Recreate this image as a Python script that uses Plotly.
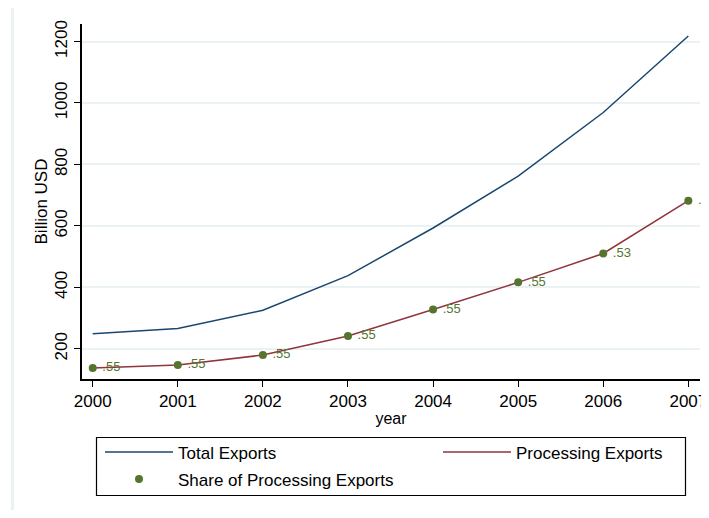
import plotly.graph_objects as go

# China exports, billion USD
years = [2000, 2001, 2002, 2003, 2004, 2005, 2006, 2007]
total_exports = [249.2, 266.1, 325.6, 438.2, 593.3, 762.0, 969.1, 1218.0]
processing_exports = [137.7, 147.4, 179.9, 241.8, 327.9, 416.5, 510.4, 682.0]
share = [0.55, 0.55, 0.55, 0.55, 0.55, 0.55, 0.53, 0.56]

y_ticks = [200, 400, 600, 800, 1000, 1200]

navy = "#1a476f"
maroon = "#90353b"
green = "#55752f"
grid = "#eaf2f3"

share_labels = [f"{s:.2f}".lstrip("0") for s in share]

fig = go.Figure()
fig.add_trace(go.Scatter(x=years, y=total_exports, mode="lines", name="Total Exports",
                         line=dict(color=navy, width=1.5), legend="legend"))
fig.add_trace(go.Scatter(x=years, y=processing_exports, mode="lines", name="Processing Exports",
                         line=dict(color=maroon, width=1.5), legend="legend2"))
fig.add_trace(go.Scatter(x=years, y=processing_exports, mode="markers+text",
                         name="Share of Processing Exports",
                         marker=dict(color=green, size=8),
                         text=share_labels, texttemplate=" %{text}",
                         textposition="middle right",
                         textfont=dict(color=green, size=13),
                         cliponaxis=False, legend="legend3"))

font = "Liberation Sans, Arial, sans-serif"

# page has an 8px body margin; plot area in window pixels: x 82..700, y 24..379
def px_x(p):
    return (p - 82) / 618

def px_y(p):
    return (379 - p) / 355

leg = dict(xanchor="left", yanchor="top", bgcolor="rgba(0,0,0,0)", borderwidth=0,
           itemwidth=68, font=dict(size=17))

fig.update_layout(
    width=701, height=502,
    margin=dict(l=74, r=9, t=16, b=131, autoexpand=False),
    paper_bgcolor="white", plot_bgcolor="white",
    font=dict(family=font, size=17, color="black"),
    showlegend=True,
    legend=dict(x=px_x(100), y=px_y(434.5), **leg),
    legend2=dict(x=px_x(438), y=px_y(434.5), **leg),
    legend3=dict(x=px_x(100), y=px_y(461.5), **leg),
    shapes=[
        dict(type="rect", xref="paper", yref="paper",
             x0=px_x(12.5), y0=px_y(4.5), x1=1.2, y1=-0.6,
             line=dict(color=grid, width=3), layer="below"),
        dict(type="rect", xref="paper", yref="paper",
             x0=px_x(96.5), y0=px_y(437.5), x1=px_x(685.5), y1=px_y(495.5),
             line=dict(color="black", width=1.2)),
    ],
)
fig.update_xaxes(range=[1999.874, 2007.137], tickvals=years, showgrid=False,
                 showline=True, linecolor="black", linewidth=1.5,
                 ticks="outside", ticklen=6, tickcolor="black", automargin=False,
                 ticklabeloverflow="allow",
                 title=dict(text="year", standoff=3, font=dict(size=16)),
                 zeroline=False)
fig.update_yaxes(range=[102, 1257], tickvals=y_ticks, tickangle=-90,
                 showgrid=True, gridcolor=grid, gridwidth=1.5,
                 showline=True, linecolor="black", linewidth=1.5,
                 ticks="outside", ticklen=6, tickcolor="black", automargin=False,
                 title=dict(text="Billion USD", standoff=1, font=dict(size=17)),
                 zeroline=False)

fig.write_html("out.html")
